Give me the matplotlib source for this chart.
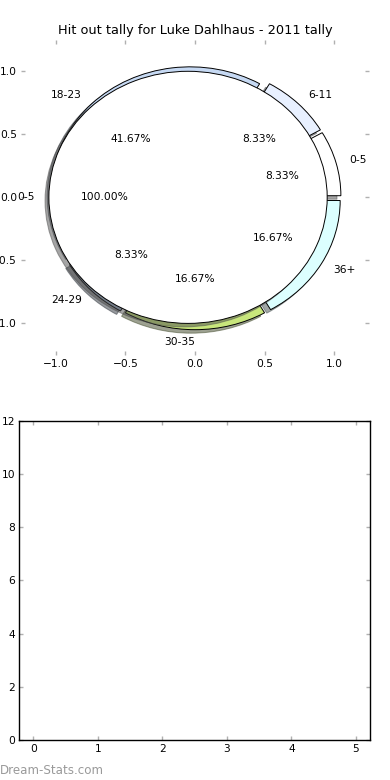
import matplotlib
matplotlib.use("Agg")
import matplotlib.pyplot as plt

# hit-out tally by disposal-count bucket
labels = ['0-5', '6-11', '18-23', '24-29', '30-35', '36+']
counts = [1, 1, 5, 1, 2, 2]
colors = ['#ffffff', '#e8f0ff', '#c6d9f3', '#9eb0c8', '#c8e67c', '#dcffff']

inner_labels = ['0-5']
inner_counts = [12]
inner_colors = ['#ffffff']

bar_xticks = [0, 1, 2, 3, 4, 5]
bar_yticks = [0, 2, 4, 6, 8, 10, 12]

fs = 7.7

plt.rcParams['font.family'] = ['DejaVu Sans']
fig = plt.figure(figsize=(3.9, 7.8), dpi=100)

ax = fig.add_axes([0.054, 0.545, 0.892, 0.404])
wedges, texts, autotexts = ax.pie(
    counts, labels=labels, colors=colors, explode=[0.05] * len(counts),
    autopct='%1.2f%%', shadow=True, startangle=0,
    wedgeprops={'edgecolor': 'black', 'linewidth': 0.7, 'zorder': 1},
    textprops={'fontsize': fs})
# label straight below the centre sits to the left, like the old renderer
for t in texts:
    if abs(t.get_position()[0]) < 1e-6:
        t.set_ha('right')
ax.pie(inner_counts, labels=inner_labels, colors=inner_colors, explode=[0.05],
       autopct='%1.2f%%', shadow=True, startangle=0,
       wedgeprops={'edgecolor': 'black', 'linewidth': 0.7, 'zorder': 2},
       textprops={'fontsize': fs})
ax.set_aspect('auto')
ax.set_frame_on(False)
ax.set_xlim(-1.25, 1.25)
ax.set_ylim(-1.25, 1.25)
ax.set_xticks([-1.0, -0.5, 0.0, 0.5, 1.0])
ax.set_yticks([-1.0, -0.5, 0.0, 0.5, 1.0])
ax.tick_params(direction='in', top=True, right=True, length=3, width=1,
               color='#b0b0b0', labelsize=fs, pad=3)
ax.set_title('Hit out tally for Luke Dahlhaus - 2011 tally', fontsize=9.3, pad=4)

ax2 = fig.add_axes([0.0495, 0.0513, 0.8995, 0.409])
ax2.set_xlim(-0.22, 5.22)
ax2.set_ylim(0, 12)
ax2.set_xticks(bar_xticks)
ax2.set_yticks(bar_yticks)
ax2.tick_params(direction='in', top=True, right=True, length=3, width=1,
                color='#b0b0b0', labelsize=fs, pad=3)
for s in ax2.spines.values():
    s.set_linewidth(1)

fig.text(0.0, 0.004, 'Dream-Stats.com', fontsize=8.6, color='#9a9a9a',
         ha='left', va='bottom')

fig.savefig('out.png', dpi=100)
